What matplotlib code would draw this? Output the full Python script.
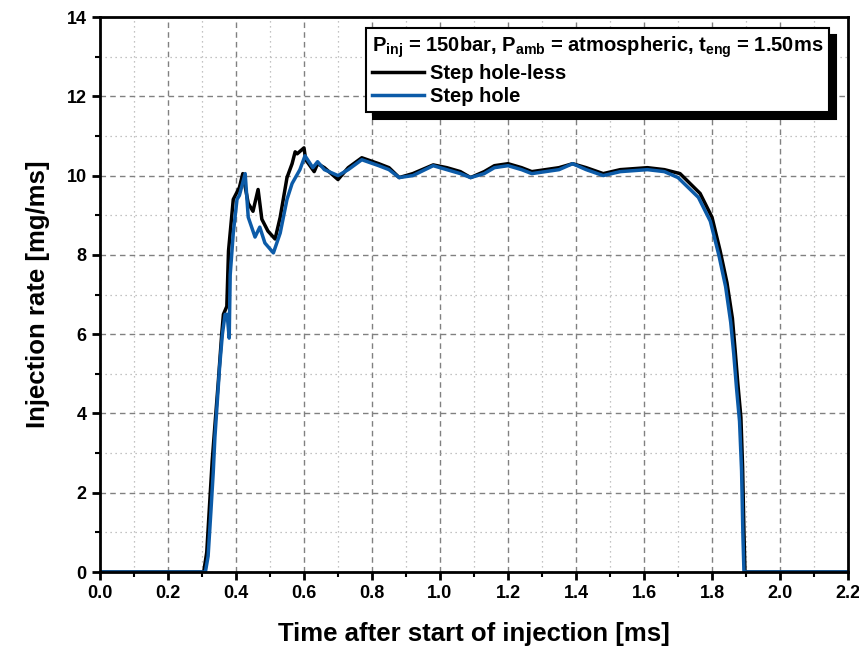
import matplotlib
matplotlib.use("Agg")
import matplotlib.pyplot as plt
from matplotlib.ticker import MultipleLocator

# Step hole-less (black)
t_less = [0.0, 0.305, 0.314, 0.323, 0.330, 0.338, 0.348, 0.358, 0.363, 0.373, 0.378,
          0.392, 0.41, 0.42, 0.436, 0.45, 0.465, 0.476, 0.494, 0.515, 0.53, 0.55,
          0.565, 0.574, 0.58, 0.6, 0.605, 0.63, 0.64, 0.66, 0.70, 0.73, 0.77, 0.82,
          0.85, 0.88, 0.92, 0.98, 1.02, 1.06, 1.09, 1.13, 1.16, 1.2, 1.24, 1.27,
          1.31, 1.35, 1.39, 1.43, 1.48, 1.53, 1.61, 1.66, 1.706, 1.765, 1.8, 1.824,
          1.844, 1.86, 1.868, 1.876, 1.885, 1.89, 1.894, 1.897, 2.2]
r_less = [0, 0, 0.5, 1.8, 2.8, 3.7, 4.8, 6.0, 6.5, 6.7, 8.1,
          9.4, 9.7, 10.05, 9.3, 9.1, 9.65, 8.9, 8.6, 8.4, 8.95, 9.95,
          10.3, 10.6, 10.55, 10.7, 10.4, 10.1, 10.3, 10.2, 9.9, 10.2, 10.45, 10.3,
          10.2, 9.95, 10.05, 10.27, 10.2, 10.1, 9.95, 10.1, 10.25, 10.3, 10.2, 10.1,
          10.15, 10.2, 10.3, 10.2, 10.05, 10.15, 10.2, 10.15, 10.05, 9.55, 8.95, 8.1,
          7.3, 6.4, 5.6, 4.75, 3.9, 2.65, 1.0, 0, 0]

# Step hole (blue)
t_hole = [0.0, 0.31, 0.318, 0.326, 0.333, 0.338, 0.345, 0.352, 0.36, 0.368, 0.374,
          0.38, 0.383, 0.392, 0.403, 0.41, 0.427, 0.436, 0.456, 0.47, 0.485, 0.51,
          0.53, 0.55, 0.565, 0.588, 0.603, 0.626, 0.64, 0.66, 0.70, 0.73, 0.77,
          0.82, 0.85, 0.88, 0.92, 0.98, 1.02, 1.06, 1.09, 1.13, 1.16, 1.2, 1.24,
          1.27, 1.31, 1.35, 1.39, 1.43, 1.48, 1.53, 1.61, 1.66, 1.70, 1.76, 1.795,
          1.82, 1.84, 1.855, 1.864, 1.872, 1.881, 1.887, 1.891, 1.894, 2.2]
r_hole = [0, 0, 0.4, 1.5, 2.5, 3.4, 4.3, 5.2, 6.0, 6.5, 6.5,
          5.9, 7.5, 8.55, 9.4, 9.5, 10.05, 8.95, 8.45, 8.7, 8.3, 8.05,
          8.55, 9.4, 9.8, 10.15, 10.5, 10.2, 10.35, 10.15, 10.0, 10.15, 10.4,
          10.25, 10.15, 9.95, 10.0, 10.25, 10.15, 10.05, 9.95, 10.05, 10.2, 10.25, 10.15,
          10.05, 10.1, 10.15, 10.3, 10.15, 10.0, 10.1, 10.15, 10.1, 9.95, 9.45, 8.85,
          8.0, 7.2, 6.3, 5.5, 4.65, 3.8, 2.55, 0.9, 0, 0]

plt.rcParams['font.family'] = 'Liberation Sans'
plt.rcParams['font.weight'] = 'bold'
plt.rcParams['mathtext.fontset'] = 'custom'
plt.rcParams['mathtext.rm'] = 'Liberation Sans:bold'
plt.rcParams['mathtext.bf'] = 'Liberation Sans:bold'
plt.rcParams['mathtext.default'] = 'bf'

fig = plt.figure(figsize=(8.59, 6.55), dpi=100)
ax = fig.add_axes([0.1164, 0.1267, 0.8708, 0.8473])

ax.plot(t_less, r_less, color='black', lw=2.5, label='Step hole-less')
ax.plot(t_hole, r_hole, color='#0c5ba8', lw=2.5, label='Step hole')

ax.set_xlim(0, 2.2)
ax.set_ylim(0, 14)
ax.xaxis.set_major_locator(MultipleLocator(0.2))
ax.xaxis.set_minor_locator(MultipleLocator(0.1))
ax.yaxis.set_major_locator(MultipleLocator(2))
ax.yaxis.set_minor_locator(MultipleLocator(1))
ax.xaxis.set_major_formatter(matplotlib.ticker.FormatStrFormatter('%.1f'))

ax.grid(which='major', linestyle=(0, (4, 3)), color='#808080', lw=1)
ax.grid(which='minor', linestyle=(0, (1, 3)), color='#b0b0b0', lw=0.9)
ax.set_axisbelow(True)

for s in ax.spines.values():
    s.set_linewidth(2)
ax.tick_params(which='major', direction='out', length=6, width=2, labelsize=13)
ax.tick_params(which='minor', direction='out', length=3.5, width=1.5)
for lab in ax.get_xticklabels() + ax.get_yticklabels():
    lab.set_fontweight('bold')

ax.set_xlabel('Time after start of injection [ms]', fontsize=18.5, fontweight='bold', labelpad=14)
ax.set_ylabel('Injection rate [mg/ms]', fontsize=18.5, fontweight='bold', labelpad=12)

leg = ax.legend(loc='upper right', bbox_to_anchor=(0.975, 0.98),
                title=r'P$_{inj}$ = 150bar, P$_{amb}$ = atmospheric, t$_{eng}$ = 1.50ms',
                title_fontproperties={'weight': 'bold', 'size': 14.5},
                prop={'weight': 'bold', 'size': 14.5}, alignment='left',
                frameon=True, fancybox=False,
                shadow={'color': 'black', 'alpha': 1, 'ox': 5, 'oy': -5},
                edgecolor='black', framealpha=1, handlelength=2.6,
                handletextpad=0.3, borderpad=0.3, labelspacing=0.2, borderaxespad=0)
leg.get_frame().set_linewidth(1.5)

fig.savefig('out.png', dpi=100)
